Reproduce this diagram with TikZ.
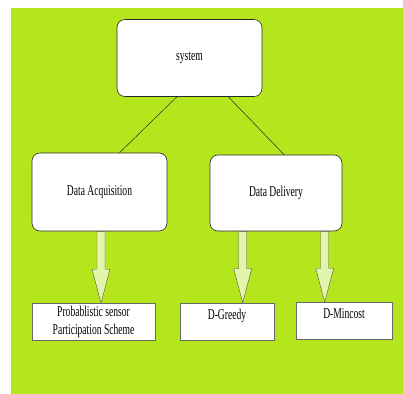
\documentclass[tikz,border=0pt]{standalone}
\usepackage{fontspec}
\setmainfont{Liberation Serif}[FakeStretch=0.64]
\usetikzlibrary{calc}
\definecolor{bgcol}{RGB}{181,230,29}
\definecolor{arrfill}{RGB}{226,245,170}
\definecolor{boxline}{RGB}{40,40,40}
\newcommand{\fatarrow}[2]{%
  \draw[fatarr] let \p1=(#1), \p2=(#2) in
    (\x1-4bp,\y1) -- (\x1-4bp,\y2+34bp) -- (\x1-9bp,\y2+34bp) -- (\x1,\y2)
    -- (\x1+9bp,\y2+34bp) -- (\x1+4bp,\y2+34bp) -- (\x1+4bp,\y1) -- cycle;}

\begin{document}
\begin{tikzpicture}[x=1bp,y=-1bp,
  font=\fontsize{15}{18}\selectfont,
  topbox/.style={draw=boxline, line width=0.6pt, fill=white, rounded corners=8bp},
  leafbox/.style={draw=boxline!70, line width=0.6pt, fill=white, align=center,
    inner sep=0pt, minimum height=37bp},
  fatarr/.style={draw=boxline!80, line width=0.4pt, fill=arrfill},
]
% ---- Background ----
\useasboundingbox (0,0) rectangle (403,394);
\fill[white] (0,0) rectangle (403,394);
\fill[bgcol] (11,8) rectangle (403,394);

% ---- Nodes ----
\node[topbox, minimum width=145bp, minimum height=77bp] (sys) at (189.5,58) {system};
\node[topbox, minimum width=135bp, minimum height=78bp] (acq) at (99.5,192) {Data Acquisition};
\node[topbox, minimum width=132bp, minimum height=76bp] (del) at (276,193) {Data Delivery};
\node[leafbox, minimum width=123bp] (prob) at (93.5,322)
  {Probablistic sensor\\Participation Scheme};
\node[leafbox, minimum width=94bp, text depth=14bp] (greedy) at (227,321.5) {D-Greedy};
\node[leafbox, minimum width=96bp, text depth=14bp] (mincost) at (344,321) {D-Mincost};

% ---- Tree lines ----
\draw[boxline, line width=0.5pt] (sys.252) -- (acq.63);
\draw[boxline, line width=0.5pt] (sys.315) -- (del.78);

% ---- Block arrows ----
\fatarrow{$(acq.south)+(1.5,0)$}{prob.north}
\fatarrow{$(del.south west)+(33,0)$}{greedy.north}
\fatarrow{$(del.south west)+(115,0)$}{mincost.north}
\end{tikzpicture}
\end{document}
